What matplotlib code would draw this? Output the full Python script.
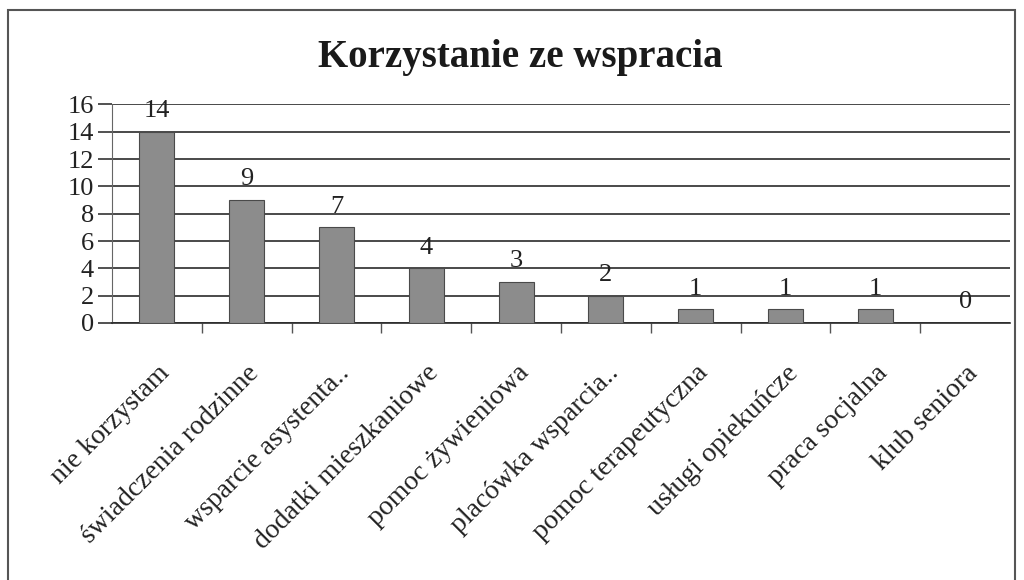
import matplotlib
matplotlib.use("Agg")
import matplotlib.pyplot as plt
from matplotlib.patches import Rectangle

categories = ["nie korzystam", "świadczenia rodzinne", "wsparcie asystenta..",
              "dodatki mieszkaniowe", "pomoc żywieniowa", "placówka wsparcia..",
              "pomoc terapeutyczna", "usługi opiekuńcze", "praca socjalna",
              "klub seniora"]
values = [14, 9, 7, 4, 3, 2, 1, 1, 1, 0]
yticks = [0, 2, 4, 6, 8, 10, 12, 14, 16]

plt.rcParams['font.family'] = ['Liberation Serif', 'DejaVu Serif']

fig = plt.figure(figsize=(10.24, 5.8), dpi=100)
ax = fig.add_axes([112/1024, 1 - 323/580, 898/1024, (323 - 104)/580])

x = list(range(len(categories)))
bars = ax.bar(x, values, width=0.39, color="#8c8c8c", edgecolor="#4a4a4a",
              linewidth=0.8, zorder=3)

for xi, v in zip(x, values):
    ax.annotate(str(v), (xi, v), xytext=(0, 7), textcoords="offset points",
                ha="center", va="bottom", fontsize=19, color="#222", zorder=4)

ax.set_xlim(-0.5, len(categories) - 0.5)
ax.set_ylim(0, 16.03)
ax.set_yticks(yticks)
ax.tick_params(axis="y", labelsize=19, length=10, width=1.2, color="#333",
               labelcolor="#222", pad=3)
ax.yaxis.grid(True, color="#2a2a2a", linewidth=1.2, zorder=0)

ax.set_xticks(x)
ax.set_xticklabels(categories, rotation=45, ha="right", va="top",
                   rotation_mode="anchor", fontsize=20, color="#222")
ax.tick_params(axis="x", which="major", length=0, pad=27)
ax.set_xticks([i + 0.5 for i in x[:-1]], minor=True)
ax.tick_params(axis="x", which="minor", length=7, width=1, color="#555")

for s in ["top", "right"]:
    ax.spines[s].set_visible(False)
ax.spines["left"].set_color("#666")
ax.spines["left"].set_linestyle((0, (1, 1)))
ax.spines["bottom"].set_color("#2a2a2a")
ax.spines["bottom"].set_linewidth(1.2)

fig.text(520/1024, 1 - 57/580, "Korzystanie ze wspracia", ha="center",
         va="center", fontsize=28, fontweight="bold", color="#1a1a1a")

fig.patches.append(Rectangle((8/1024, -0.01), 1007/1024, 1.01 - 10/580,
                             transform=fig.transFigure, fill=False,
                             edgecolor="#555", linewidth=1.5))

fig.savefig("out.png", dpi=100)
